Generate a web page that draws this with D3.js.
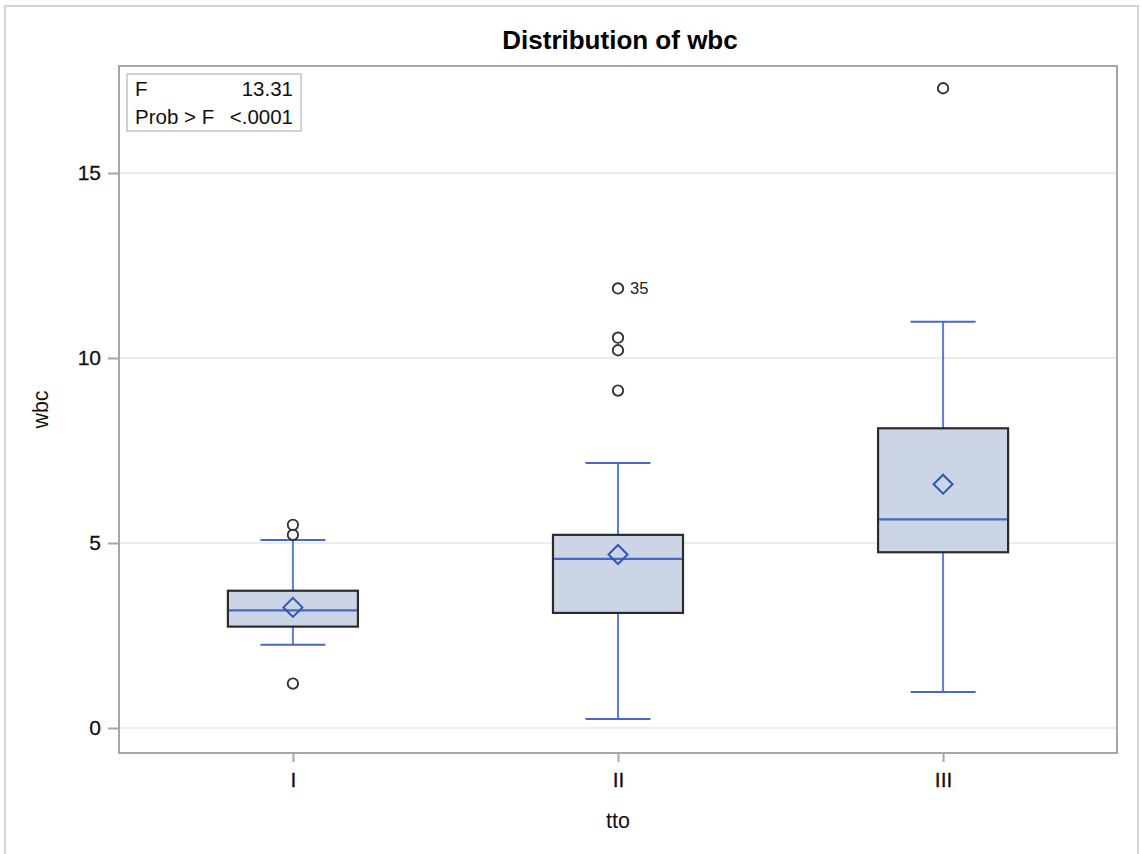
<!DOCTYPE html>
<html>
<head>
<meta charset="utf-8">
<script src="https://cdn.jsdelivr.net/npm/d3@7"></script>
<style>
  html, body { margin: 0; padding: 0; background: #fff; }
  svg { display: block; font-family: "Liberation Sans", Arial, Helvetica, sans-serif; }
</style>
</head>
<body>
<svg id="chart" width="1142" height="854"></svg>
<script>
// Box plot summary of wbc by tto group
const categories = ["I", "II", "III"];
const q1 = [2.74, 3.11, 4.75];
const median = [3.18, 4.57, 5.64];
const q3 = [3.71, 5.22, 8.10];
const mean = [3.26, 4.69, 6.59];
const whiskerLow = [2.25, 0.24, 0.97];
const whiskerHigh = [5.08, 7.16, 10.98];
const outlierGroup = ["I", "I", "I", "II", "II", "II", "II", "III"];
const outlierValue = [5.49, 5.22, 1.20, 11.88, 10.55, 10.21, 9.12, 17.29];
const outlierLabel = ["", "", "", "35", "", "", "", ""];
const yTicks = [0, 5, 10, 15];
const statNames = ["F", "Prob > F"];
const statValues = ["13.31", "<.0001"];

const svg = d3.select("#chart");
const frame = { left: 119, right: 1117, top: 66, bottom: 753 };

const x = d3.scalePoint()
  .domain(categories)
  .range([frame.left, frame.right])
  .padding(0.535);

const y = d3.scaleLinear()
  .domain([-0.6757, 17.892])
  .range([frame.bottom, frame.top]);

const step = x.step();
const boxW = step * 0.4;
const capW = boxW * 0.5;

// Outer graph border
svg.append("rect")
  .attr("x", 5).attr("y", 6)
  .attr("width", 1133).attr("height", 870)
  .attr("fill", "none")
  .attr("stroke", "#d4d4d4")
  .attr("stroke-width", 2);

// Title
svg.append("text")
  .attr("x", (frame.left + frame.right) / 2 + 2)
  .attr("y", 48.5)
  .attr("text-anchor", "middle")
  .attr("font-size", 26)
  .attr("font-weight", "bold")
  .attr("fill", "#000")
  .text("Distribution of wbc");

// Horizontal gridlines
svg.append("g")
  .selectAll("line")
  .data(yTicks)
  .join("line")
  .attr("x1", frame.left).attr("x2", frame.right)
  .attr("y1", d => y(d)).attr("y2", d => y(d))
  .attr("stroke", "#ececec")
  .attr("stroke-width", 2);

// Y axis
const yAxis = svg.append("g")
  .attr("transform", `translate(${frame.left},0)`)
  .call(d3.axisLeft(y).tickValues(yTicks).tickSize(11).tickPadding(7).tickFormat(d3.format("d")));
yAxis.select(".domain").remove();
yAxis.selectAll(".tick line").attr("stroke", "#a2a7ac").attr("stroke-width", 2);
yAxis.selectAll(".tick text")
  .attr("font-size", 21)
  .attr("fill", "#111")
  .attr("stroke", "#111")
  .attr("stroke-width", 0.3)
  .attr("font-family", "Liberation Sans, Arial, sans-serif");

// X axis
const xAxis = svg.append("g")
  .attr("transform", `translate(0,${frame.bottom})`)
  .call(d3.axisBottom(x).tickSize(9).tickPadding(10));
xAxis.select(".domain").remove();
xAxis.selectAll(".tick line").attr("stroke", "#a2a7ac").attr("stroke-width", 2);
xAxis.selectAll(".tick text")
  .attr("font-size", 21)
  .attr("fill", "#111")
  .attr("stroke", "#111")
  .attr("stroke-width", 0.3)
  .attr("font-family", "Liberation Sans, Arial, sans-serif");

// Plot frame
svg.append("rect")
  .attr("x", frame.left).attr("y", frame.top)
  .attr("width", frame.right - frame.left)
  .attr("height", frame.bottom - frame.top)
  .attr("fill", "none")
  .attr("stroke", "#a2a7ac")
  .attr("stroke-width", 2);

// Axis labels
svg.append("text")
  .attr("x", (frame.left + frame.right) / 2)
  .attr("y", 828)
  .attr("text-anchor", "middle")
  .attr("font-size", 21.5)
  .attr("fill", "#111")
  .text("tto");

svg.append("text")
  .attr("transform", `translate(48,${(frame.top + frame.bottom) / 2}) rotate(-90)`)
  .attr("text-anchor", "middle")
  .attr("font-size", 21.5)
  .attr("fill", "#111")
  .text("wbc");

// Boxes
const blue = "#4569c4";
const groups = svg.append("g")
  .selectAll("g")
  .data(categories)
  .join("g");

// whiskers
groups.append("line")
  .attr("x1", d => x(d)).attr("x2", d => x(d))
  .attr("y1", (d, i) => y(whiskerLow[i])).attr("y2", (d, i) => y(q1[i]))
  .attr("stroke", "#5b7fd0").attr("stroke-width", 2);
groups.append("line")
  .attr("x1", d => x(d)).attr("x2", d => x(d))
  .attr("y1", (d, i) => y(q3[i])).attr("y2", (d, i) => y(whiskerHigh[i]))
  .attr("stroke", "#5b7fd0").attr("stroke-width", 2);
// caps
groups.append("line")
  .attr("x1", d => x(d) - capW / 2).attr("x2", d => x(d) + capW / 2)
  .attr("y1", (d, i) => y(whiskerLow[i])).attr("y2", (d, i) => y(whiskerLow[i]))
  .attr("stroke", blue).attr("stroke-width", 2);
groups.append("line")
  .attr("x1", d => x(d) - capW / 2).attr("x2", d => x(d) + capW / 2)
  .attr("y1", (d, i) => y(whiskerHigh[i])).attr("y2", (d, i) => y(whiskerHigh[i]))
  .attr("stroke", blue).attr("stroke-width", 2);
// box
groups.append("rect")
  .attr("x", d => x(d) - boxW / 2)
  .attr("width", boxW)
  .attr("y", (d, i) => y(q3[i]))
  .attr("height", (d, i) => y(q1[i]) - y(q3[i]))
  .attr("fill", "#cbd5e5")
  .attr("stroke", "#2b2b2b")
  .attr("stroke-width", 2.2);
// median
groups.append("line")
  .attr("x1", d => x(d) - boxW / 2 + 1).attr("x2", d => x(d) + boxW / 2 - 1)
  .attr("y1", (d, i) => y(median[i])).attr("y2", (d, i) => y(median[i]))
  .attr("stroke", blue).attr("stroke-width", 2.2);
// mean diamond
groups.append("path")
  .attr("transform", (d, i) => `translate(${x(d)},${y(mean[i])})`)
  .attr("d", "M0,-9.5L9.5,0L0,9.5L-9.5,0Z")
  .attr("fill", "none")
  .attr("stroke", "#2f55b8")
  .attr("stroke-width", 2);

// Outliers
const outliers = svg.append("g")
  .selectAll("g")
  .data(outlierValue.map((v, i) => ({ g: outlierGroup[i], v, label: outlierLabel[i] })))
  .join("g")
  .attr("transform", d => `translate(${x(d.g)},${y(d.v)})`);
outliers.append("circle")
  .attr("r", 5.2)
  .attr("fill", "none")
  .attr("stroke", "#333")
  .attr("stroke-width", 1.9);
outliers.filter(d => d.label)
  .append("text")
  .attr("x", 12)
  .attr("y", 5.5)
  .attr("font-size", 16.5)
  .attr("fill", "#222")
  .text(d => d.label);

// Statistics inset
const inset = svg.append("g");
inset.append("rect")
  .attr("x", 127).attr("y", 74)
  .attr("width", 174).attr("height", 57)
  .attr("fill", "#fff")
  .attr("stroke", "#c4c4c4")
  .attr("stroke-width", 1.5);
inset.selectAll("text.name")
  .data(statNames)
  .join("text")
  .attr("class", "name")
  .attr("x", 135)
  .attr("y", (d, i) => 96 + i * 27.5)
  .attr("font-size", 20.5)
  .attr("fill", "#111")
  .text(d => d);
inset.selectAll("text.val")
  .data(statValues)
  .join("text")
  .attr("class", "val")
  .attr("x", 293)
  .attr("y", (d, i) => 96 + i * 27.5)
  .attr("text-anchor", "end")
  .attr("font-size", 20.5)
  .attr("fill", "#111")
  .text(d => d);
</script>
</body>
</html>
